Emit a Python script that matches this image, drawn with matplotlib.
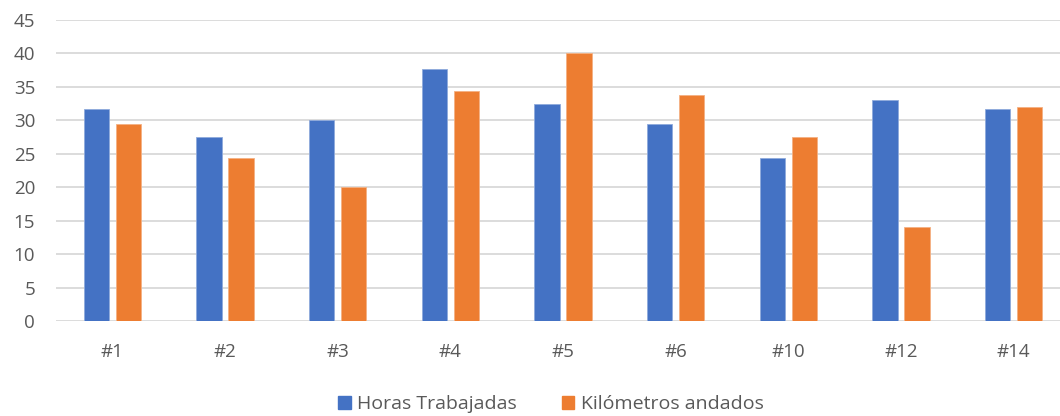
import matplotlib
matplotlib.use("Agg")
import matplotlib.pyplot as plt
import numpy as np
from matplotlib.patches import Patch

categories = ["#1", "#2", "#3", "#4", "#5", "#6", "#10", "#12", "#14"]
horas = [31.7, 27.5, 30.0, 37.7, 32.4, 29.4, 24.3, 33.0, 31.7]
kilometros = [29.4, 24.3, 20.0, 34.4, 40.1, 33.8, 27.5, 14.0, 32.0]
y_ticks = [0, 5, 10, 15, 20, 25, 30, 35, 40, 45]

blue = "#4472C4"
orange = "#ED7D31"
text_gray = "#595959"
grid_gray = "#D9D9D9"

plt.rcParams["font.family"] = ["Open Sans", "DejaVu Sans"]

W, H = 1060, 416
fig = plt.figure(figsize=(W / 100, H / 100), dpi=100)
left, right, bottom, top = 56, 1070, 321, 20
ax = fig.add_axes([left / W, (H - bottom) / H, (right - left) / W, (bottom - top) / H])

x = np.arange(len(categories))
bw = 0.222
off = 0.142
ax.bar(x - off, horas, bw, color=blue, edgecolor="#8FAADC", linewidth=0.6, zorder=3)
ax.bar(x + off, kilometros, bw, color=orange, edgecolor="#F4B183", linewidth=0.6, zorder=3)

ax.set_xlim(-0.5, len(categories) - 0.5)
ax.set_ylim(0, 45)
ax.set_yticks(y_ticks)
ax.set_xticks(x)
ax.set_xticklabels(categories)
ax.yaxis.grid(True, color=grid_gray, linewidth=1.3, zorder=0)
ax.set_axisbelow(True)
for s in ax.spines.values():
    s.set_visible(False)
ax.tick_params(axis="both", length=0, colors=text_gray, labelsize=13.5)
ax.tick_params(axis="y", pad=15)
ax.tick_params(axis="x", pad=16)

handles = [Patch(color=blue), Patch(color=orange)]
fig.legend(handles, ["Horas Trabajadas", "Kilómetros andados"],
           loc="center", bbox_to_anchor=(551 / W, (H - 404) / H),
           ncol=2, frameon=False, fontsize=14, labelcolor=text_gray,
           handlelength=0.65, handleheight=0.65, handletextpad=0.35, columnspacing=2.3)

fig.savefig("out.png", dpi=100)
